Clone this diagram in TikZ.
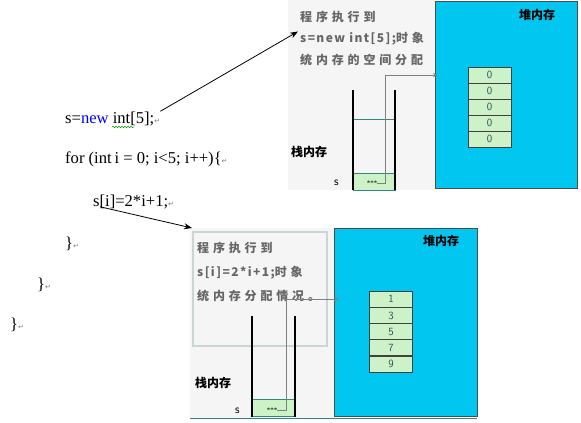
\documentclass[tikz,border=0pt]{standalone}
\usepackage{fontspec}
\setmainfont{Liberation Serif}
\newfontfamily\cjk{Noto Sans CJK SC}
\newfontfamily\panelcjk[LetterSpace=32]{Noto Sans CJK SC}
\newfontfamily\panellatin[LetterSpace=12]{Noto Sans CJK SC}
\newfontfamily\symfont{DejaVu Sans}
\usetikzlibrary{arrows.meta, positioning, decorations.pathmorphing}
\definecolor{heapblue}{RGB}{0,198,240}
\definecolor{cellgreen}{RGB}{206,242,200}
\definecolor{celltext}{RGB}{40,80,95}
\definecolor{panelgray}{RGB}{245,245,245}
\definecolor{boxedge}{RGB}{200,214,214}
\definecolor{tealline}{RGB}{50,135,125}
\newcommand\retmark{\textcolor{gray}{\symfont\fontsize{7}{7}\selectfont ↵}}
\tikzset{
  % Code listing styles
  codeline/.style={anchor=base west, inner sep=0pt, font=\fontsize{16.6}{18}\selectfont},
  arrow/.style={-{Stealth[length=8pt, width=6pt]}, line width=0.8pt},
  % Memory diagram styles
  panelbg/.style={rectangle, anchor=north west, inner sep=0pt, fill=panelgray, draw=none},
  heap/.style={rectangle, anchor=north west, inner sep=0pt, fill=heapblue, draw=gray!60!black, line width=1pt},
  note/.style={anchor=base west, inner sep=0pt, text=gray!80!black, font=\panelcjk\bfseries\fontsize{12}{12}\selectfont},
  memlabel/.style={anchor=west, inner sep=0pt, font=\cjk\bfseries\fontsize{12}{12}\selectfont},
  cell/.style={rectangle, minimum width=43pt, minimum height=16pt, inner sep=0pt, fill=cellgreen, draw=black!75, line width=0.7pt, text=celltext, font=\sffamily\fontsize{11}{11}\selectfont},
  stackcell/.style={rectangle, minimum width=42pt, minimum height=17pt, inner sep=0pt, fill=cellgreen, draw=tealline, line width=0.6pt},
  stackwall/.style={line width=1.6pt, black},
  ptr/.style={-{Stealth[length=5pt, width=4pt]}, gray, line width=0.8pt},
}
\begin{document}
\begin{tikzpicture}[x=1pt, y=-1pt]
    \useasboundingbox (0,0) rectangle (581,423);

    % Code
    \node[codeline] (l1) at (65,123) {s=\textcolor{blue}{new} int[5];\retmark};
    \node[codeline] (l2) at (65,163) {for (int\,i = 0; i<5; i++)\{\retmark};
    \node[codeline] (l3) at (93,206) {s[i]=2*i+1;\retmark};
    \node[codeline] (l4) at (65,248) {\}\retmark};
    \node[codeline] (l5) at (37,289) {\}\retmark};
    \node[codeline] (l6) at (10,329) {\}\retmark};
    \draw[green!60!black, line width=0.5pt, decorate, decoration={snake, amplitude=0.8pt, segment length=3pt}]
      (112,127) -- (134,127);

    % Upper memory picture
    \node[panelbg, minimum width=147pt, minimum height=190pt] (toppanel) at (288,0) {};
    \node[heap, minimum width=142pt, minimum height=187pt] (topheap) at (435,1) {};
    \node[note] (t1) at (300,21) {程序执行到};
    \node[note] (t2) at (300,42) {{\panellatin s=new int[5];}时象};
    \node[note] (t3) at (300,64) {统内存的空间分配};
    \node[memlabel] (theap) at (519,15) {堆内存};
    \node[memlabel] (tstack) at (291,152) {栈内存};
    \node[anchor=west, inner sep=0pt, font=\sffamily\fontsize{12}{12}\selectfont] (ts) at (334,183) {s};
    \foreach \v [count=\i] in {0,0,0,0,0}
      \node[cell] (topc\i) at (489.5,59+16*\i) {\v};
    \node[stackcell] (tcell) at (374,181.5) {};
    \node[inner sep=0pt, font=\fontsize{7}{7}\selectfont] (tstars) at (372,183) {***};
    \draw[tealline, line width=0.5pt] (353,119) -- (395,119);
    \draw[stackwall] (353,90) -- (353,190);
    \draw[stackwall] (395,90) -- (395,190);
    \coordinate (tptr) at (438,75);
    \draw[ptr] (tstars.east) -- ++(8,0) |- (tptr);

    % Lower memory picture
    \node[panelbg, minimum width=144pt, minimum height=190pt] (botpanel) at (190,228) {};
    \node[heap, minimum width=143pt, minimum height=188pt] (botheap) at (334,228) {};
    \draw[boxedge, line width=1.2pt, fill=panelgray] (193,232) rectangle (327,346);
    \draw[tealline, line width=1pt] (190,418) -- (477,418);
    \node[note] (b1) at (197,252) {程序执行到};
    \node[note] (b2) at (197,276) {{\panellatin s[i]=2*i+1;}时象};
    \node[note] (b3) at (197,300) {统内存分配情况。};
    \node[memlabel] (bheap) at (423,241) {堆内存};
    \node[memlabel] (bstack) at (195,383) {栈内存};
    \node[anchor=west, inner sep=0pt, font=\sffamily\fontsize{12}{12}\selectfont] (bs) at (235,411) {s};
    \foreach \v [count=\i] in {1,3,5,7,9}
      \node[cell] (botc\i) at (391,283+16.2*\i) {\v};
    \node[stackcell] (bcell) at (273.5,408) {};
    \node[inner sep=0pt, font=\fontsize{7}{7}\selectfont] (bstars) at (272,410) {***};
    \draw[stackwall] (252,316) -- (252,417);
    \draw[stackwall] (295,316) -- (295,417);
    \coordinate (bptr) at (339,299);
    \draw[ptr] (bstars.east) -- ++(9,0) |- (bptr);

    % Code to picture
    \draw[arrow] (l1.north east) -- ([xshift=-2pt]t2.north west);
    \draw[arrow] ([xshift=7pt, yshift=2pt]l3.south west) -- ([xshift=2pt]botpanel.north west);
  \end{tikzpicture}
\end{document}
